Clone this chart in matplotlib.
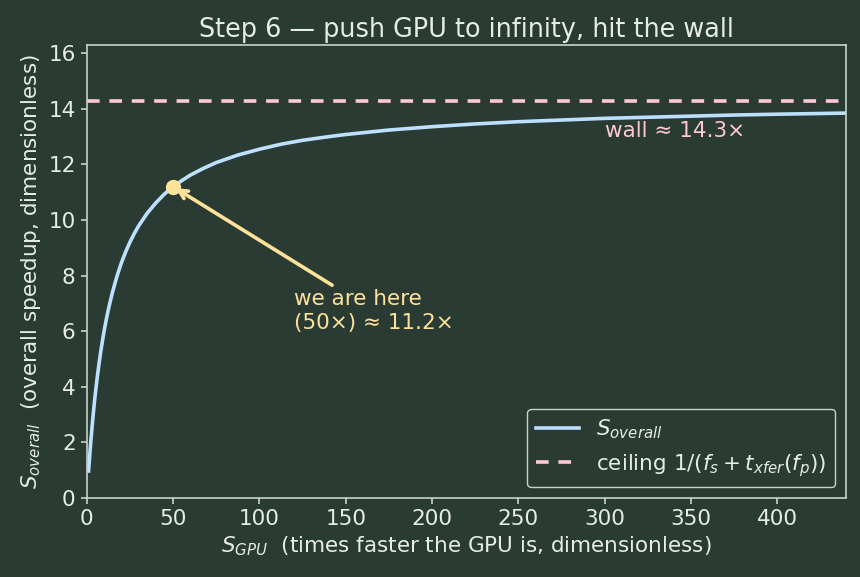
import matplotlib
matplotlib.use("Agg")
import matplotlib.pyplot as plt

# Data
s_gpu = [1, 1.5, 2, 2.5, 3, 3.5, 4, 4.5, 5, 6, 7, 8, 9, 10, 11, 12, 13, 15,
         17.5, 20, 22.5, 25, 27.5, 30, 35, 40, 45, 50, 55, 60, 67.5, 75, 87.5,
         100, 112.5, 125, 137.5, 150, 175, 200, 225, 250, 275, 300, 325, 350,
         375, 400, 440]
s_overall = [0.97, 1.40, 1.81, 2.19, 2.55, 2.89, 3.21, 3.52, 3.80, 4.33, 4.81,
             5.25, 5.64, 6.01, 6.34, 6.65, 6.93, 7.44, 7.99, 8.46, 8.86, 9.21,
             9.52, 9.79, 10.25, 10.62, 10.94, 11.20, 11.42, 11.62, 11.86, 12.07,
             12.34, 12.55, 12.73, 12.87, 12.98, 13.08, 13.24, 13.36, 13.46,
             13.54, 13.60, 13.66, 13.70, 13.74, 13.78, 13.81, 13.85]
wall = 14.29
here_x = 50
here_y = 11.2

BG = "#2a3b34"
FG = "#e6ece6"
SPINE = "#c5d5c8"
BLUE = "#bde0fe"
PINK = "#ffc8d6"
YELLOW = "#ffe29a"

FS = 15.5

fig = plt.figure(figsize=(8.6, 5.77), dpi=100, facecolor=BG)
ax = fig.add_axes([0.101, 0.137, 0.883, 0.785], facecolor=BG)

ax.plot(s_gpu, s_overall, color=BLUE, lw=2.6, label=r"$S_{overall}$")
ax.axhline(wall, color=PINK, lw=2.6, ls=(0, (3.5, 2.7)),
           label=r"ceiling $1/(f_s + t_{xfer}(f_p))$")
ax.plot([here_x], [here_y], "o", color=YELLOW, ms=10, zorder=5)
ax.annotate("we are here\n(50×) ≈ 11.2×", xy=(here_x, here_y), xytext=(120, 5.95),
            color=YELLOW, fontsize=FS, ha="left", va="bottom",
            arrowprops=dict(arrowstyle="->", color=YELLOW, lw=2.6))
ax.text(300, 13.22, "wall ≈ 14.3×", color=PINK, fontsize=FS, ha="left", va="center")

ax.set_xlim(0, 440)
ax.set_ylim(0, 16.3)
ax.set_title("Step 6 — push GPU to infinity, hit the wall", color=FG, fontsize=18.4)
ax.set_xlabel(r"$S_{GPU}$  (times faster the GPU is, dimensionless)", color=FG, fontsize=FS)
ax.set_ylabel(r"$S_{overall}$  (overall speedup, dimensionless)", color=FG, fontsize=FS)
ax.tick_params(colors=SPINE, labelcolor=FG, labelsize=FS, width=1.2, length=4.5)
for sp in ax.spines.values():
    sp.set_color(SPINE)
    sp.set_linewidth(1.2)

leg = ax.legend(loc="lower right", fontsize=FS, facecolor=BG, edgecolor=SPINE,
                framealpha=1.0)
for t in leg.get_texts():
    t.set_color(FG)

fig.savefig("out.png", dpi=100, facecolor=BG)
